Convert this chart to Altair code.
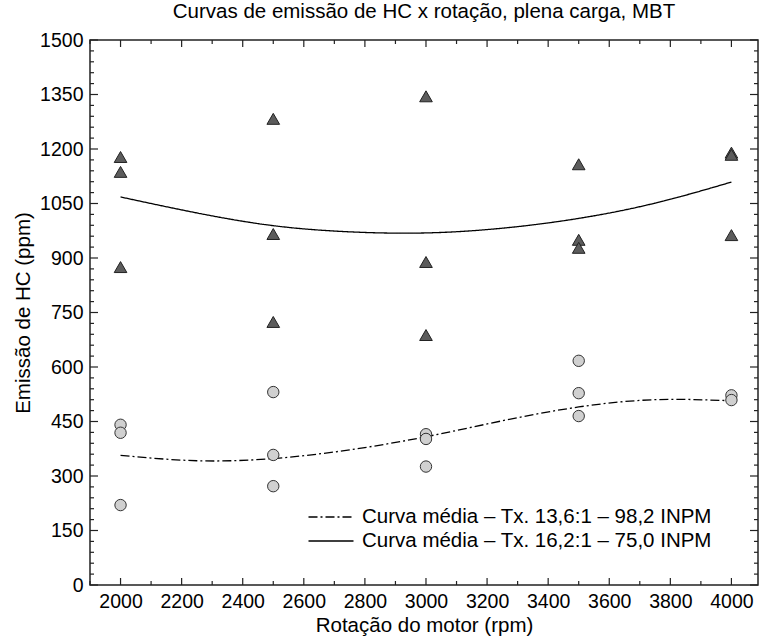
import altair as alt
import pandas as pd

# --- data ---
tri_rpm = [2000, 2000, 2000, 2500, 2500, 2500, 3000, 3000, 3000, 3500, 3500, 3500, 4000, 4000, 4000]
tri_hc = [1178, 1137, 875, 1283, 966, 724, 1345, 889, 688, 1158, 950, 928, 1190, 1184, 963]

circ_rpm = [2000, 2000, 2000, 2500, 2500, 2500, 3000, 3000, 3000, 3500, 3500, 3500, 4000, 4000]
circ_hc = [441, 419, 220, 531, 358, 272, 415, 402, 326, 617, 528, 465, 522, 509]

curve_rpm = [2000, 2250, 2500, 2750, 3000, 3250, 3500, 3750, 4000]
curve_136 = [357, 342, 348, 372, 408, 452, 490, 510, 507]
curve_162 = [1068, 1024, 989, 972, 969, 982, 1009, 1051, 1109]

label_136 = "Curva média – Tx. 13,6:1 – 98,2 INPM"
label_162 = "Curva média – Tx. 16,2:1 – 75,0 INPM"

x_major = list(range(2000, 4001, 200))
x_minor = [v for v in range(1900, 4001, 100) if v not in x_major]
y_major = list(range(0, 1501, 150))
y_minor = [v for v in range(0, 1501, 30) if v not in y_major]

W, H = 668, 545
FONT = "Liberation Sans"
FS_LAB = 19.5
FS_TXT = 20.5

tri_df = pd.DataFrame({"rpm": tri_rpm, "hc": tri_hc})
circ_df = pd.DataFrame({"rpm": circ_rpm, "hc": circ_hc})
curve_df = pd.concat([
    pd.DataFrame({"rpm": curve_rpm, "hc": curve_136, "serie": label_136}),
    pd.DataFrame({"rpm": curve_rpm, "hc": curve_162, "serie": label_162}),
])

xs = alt.Scale(domain=[1900, 4087], nice=False, zero=False)
ys = alt.Scale(domain=[0, 1500], nice=False)

x_axis = alt.Axis(values=x_major, format="d", ticks=False, domain=False, grid=False,
                  labelPadding=7, title="Rotação do motor (rpm)", titlePadding=5,
                  labelFont=FONT, labelFontSize=FS_LAB, labelColor="black",
                  titleFont=FONT, titleFontSize=FS_TXT, titleColor="black", titleFontWeight="normal")
y_axis = alt.Axis(values=y_major, format="d", ticks=False, domain=False, grid=False,
                  labelPadding=7, title="Emissão de HC (ppm)", titlePadding=6,
                  labelFont=FONT, labelFontSize=FS_LAB, labelColor="black",
                  titleFont=FONT, titleFontSize=FS_TXT, titleColor="black", titleFontWeight="normal")

lines = alt.Chart(curve_df).mark_line(color="black", strokeWidth=1.3, interpolate="natural").encode(
    x=alt.X("rpm:Q", scale=xs, axis=x_axis),
    y=alt.Y("hc:Q", scale=ys, axis=y_axis),
    strokeDash=alt.StrokeDash("serie:N",
        scale=alt.Scale(domain=[label_136, label_162], range=[[9, 3, 2, 3], [1, 0]]),
        legend=alt.Legend(title=None, orient="none", legendX=230, legendY=466,
                          symbolType="M-2.25,0H2.25", symbolSize=400, symbolStrokeWidth=1.3,
                          symbolStrokeColor="black", symbolFillColor="transparent",
                          labelFontSize=FS_TXT, labelFont=FONT,
                          labelColor="black", labelOffset=20, rowPadding=2,
                          labelLimit=600)),
    detail="serie:N",
)

tris = alt.Chart(tri_df).mark_point(shape="triangle-up", filled=True, fill="#5c5c5c",
                                    stroke="#222", strokeWidth=1, opacity=1, size=160).encode(
    x=alt.X("rpm:Q", scale=xs), y=alt.Y("hc:Q", scale=ys))

circs = alt.Chart(circ_df).mark_point(shape="circle", filled=True, fill="#d0d0d0",
                                      stroke="#333", strokeWidth=1, opacity=1, size=130).encode(
    x=alt.X("rpm:Q", scale=xs), y=alt.Y("hc:Q", scale=ys))

def yticks(vals, length):
    d = pd.DataFrame({"hc": vals})
    left = alt.Chart(d).mark_rule(color="#222", strokeWidth=1.2).encode(
        y=alt.Y("hc:Q", scale=ys), x=alt.value(0), x2=alt.value(length))
    right = alt.Chart(d).mark_rule(color="#222", strokeWidth=1.2).encode(
        y=alt.Y("hc:Q", scale=ys), x=alt.value(W - length), x2=alt.value(W))
    return left + right

def xticks(vals, length):
    d = pd.DataFrame({"rpm": vals})
    bottom = alt.Chart(d).mark_rule(color="#222", strokeWidth=1.2).encode(
        x=alt.X("rpm:Q", scale=xs), y=alt.value(H - length), y2=alt.value(H))
    top = alt.Chart(d).mark_rule(color="#222", strokeWidth=1.2).encode(
        x=alt.X("rpm:Q", scale=xs), y=alt.value(0), y2=alt.value(length))
    return bottom + top

chart = alt.layer(
    yticks(y_major, 8), yticks(y_minor, 4), xticks(x_major, 7), xticks(x_minor, 4),
    lines, circs, tris,
).properties(
    width=W, height=H,
    background="white",
    title=alt.Title("Curvas de emissão de HC x rotação, plena carga, MBT",
                    fontSize=FS_TXT, font=FONT, fontWeight="normal", color="black", offset=8),
    autosize=alt.AutoSizeParams(type="none"),
    padding={"left": 90, "top": 40, "right": 1, "bottom": 59},
).configure_view(
    stroke="#222", strokeWidth=1.5
)

chart.save("out.html", embed_options={"renderer": "svg", "actions": False})
